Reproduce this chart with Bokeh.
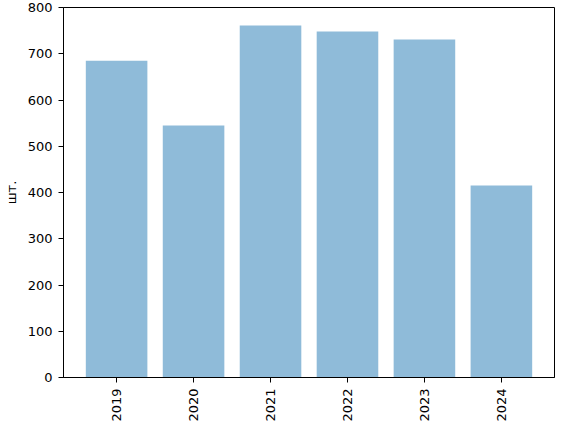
import math
from bokeh.plotting import figure
from bokeh.models import Range1d, FixedTicker, SingleIntervalTicker, ColumnDataSource
from bokeh.embed import file_html
from bokeh.resources import INLINE

years = ["2019", "2020", "2021", "2022", "2023", "2024"]
counts = [685, 545, 761, 748, 731, 415]
y_label = "шт."

pos = list(range(len(years)))
src = ColumnDataSource(dict(x=pos, top=counts, year=years))

p = figure(
    width=555, height=424,
    x_range=Range1d(-0.69, len(years) - 1 + 0.69),
    y_range=Range1d(0, 800),
    output_backend="svg", toolbar_location=None,
    min_border_left=58, min_border_right=1, min_border_top=7, min_border_bottom=47,
)
p.vbar(x="x", top="top", source=src, width=0.8, fill_color="#1f77b4", fill_alpha=0.5, line_color=None)

p.xgrid.visible = False
p.ygrid.visible = False
p.outline_line_color = "black"
p.outline_line_width = 1
p.background_fill_color = "white"
p.border_fill_color = "white"

font = "DejaVu Sans"
for ax in (p.xaxis[0], p.yaxis[0]):
    ax.axis_line_color = "black"
    ax.major_tick_line_color = "black"
    ax.major_tick_out = 5
    ax.major_tick_in = 0
    ax.minor_tick_line_color = None
    ax.major_label_text_font = font
    ax.major_label_text_font_size = "13px"
    ax.major_label_text_color = "black"
    ax.major_label_standoff = 6

p.xaxis[0].ticker = FixedTicker(ticks=pos)
p.xaxis[0].major_label_overrides = {i: y for i, y in zip(pos, years)}
p.xaxis[0].major_label_orientation = math.pi / 2

p.yaxis[0].ticker = SingleIntervalTicker(interval=100)
p.yaxis[0].axis_label = y_label
p.yaxis[0].axis_label_text_font = font
p.yaxis[0].axis_label_text_font_size = "13px"
p.yaxis[0].axis_label_text_font_style = "normal"
p.yaxis[0].axis_label_text_color = "black"
p.yaxis[0].axis_label_standoff = 6

open("out.html", "w").write(file_html(p, INLINE))
